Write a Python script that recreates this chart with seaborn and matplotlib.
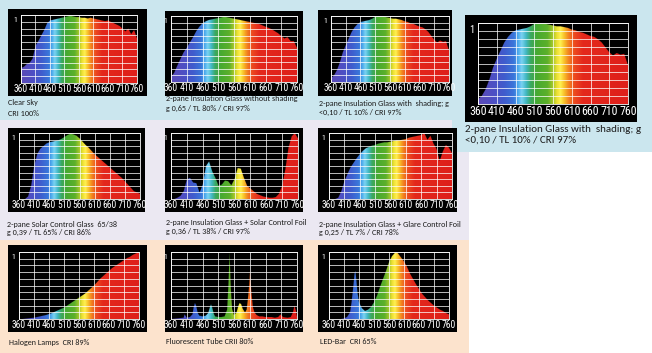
import numpy as np
import pandas as pd
import matplotlib
matplotlib.use("Agg")
import matplotlib.pyplot as plt
from matplotlib.colors import LinearSegmentedColormap
from matplotlib.patches import Rectangle
import seaborn as sns

W, H = 652, 353

# wavelength grid (nm) and tick labels
wl = list(range(360, 761, 10))
tick_nm = [360, 410, 460, 510, 560, 610, 660, 710, 760]
tick_labels = ["360", "410", "460", "510", "560", "610", "660", "710", "760"]

# relative intensity (0..1)
clear_sky = [0.22, 0.24, 0.28, 0.30, 0.36, 0.55, 0.62, 0.70, 0.78, 0.88, 0.92, 0.93, 0.94, 0.95,
             0.96, 0.97, 0.98, 0.99, 0.98, 0.97, 0.97, 0.96, 0.96, 0.95, 0.96, 0.95, 0.94, 0.93,
             0.92, 0.91, 0.92, 0.90, 0.88, 0.86, 0.84, 0.80, 0.76, 0.80, 0.72, 0.78, 0.66]
no_shading = [0.08, 0.14, 0.25, 0.35, 0.45, 0.52, 0.60, 0.68, 0.77, 0.84, 0.89, 0.92, 0.94, 0.95,
              0.96, 0.97, 0.98, 0.99, 0.98, 0.97, 0.96, 0.95, 0.94, 0.93, 0.92, 0.91, 0.90, 0.89,
              0.88, 0.86, 0.84, 0.82, 0.80, 0.77, 0.74, 0.70, 0.66, 0.68, 0.62, 0.62, 0.52]
shading = [0.06, 0.10, 0.18, 0.30, 0.45, 0.56, 0.66, 0.76, 0.83, 0.88, 0.91, 0.92, 0.93, 0.94,
           0.96, 0.99, 1.00, 0.99, 0.99, 0.98, 0.97, 0.96, 0.96, 0.95, 0.94, 0.92, 0.91, 0.89,
           0.88, 0.86, 0.84, 0.83, 0.80, 0.76, 0.70, 0.64, 0.60, 0.63, 0.61, 0.62, 0.48]
solar_glass = [0.0, 0.0, 0.0, 0.04, 0.20, 0.50, 0.68, 0.76, 0.80, 0.84, 0.86, 0.87, 0.88, 0.89,
               0.91, 0.94, 0.97, 0.99, 0.98, 0.96, 0.92, 0.87, 0.82, 0.78, 0.73, 0.68, 0.64, 0.60,
               0.56, 0.52, 0.48, 0.44, 0.40, 0.36, 0.32, 0.27, 0.22, 0.17, 0.12, 0.10, 0.08]
solar_foil = [0.0, 0.0, 0.02, 0.05, 0.12, 0.30, 0.32, 0.25, 0.24, 0.10, 0.22, 0.50, 0.57, 0.42,
              0.32, 0.20, 0.22, 0.28, 0.27, 0.21, 0.30, 0.47, 0.46, 0.32, 0.20, 0.16, 0.12, 0.08,
              0.06, 0.04, 0.03, 0.02, 0.02, 0.03, 0.08, 0.20, 0.45, 0.78, 0.95, 1.00, 0.92]
glare_foil = [0.0, 0.0, 0.0, 0.02, 0.12, 0.27, 0.38, 0.48, 0.55, 0.62, 0.68, 0.73, 0.77, 0.79,
              0.81, 0.82, 0.84, 0.85, 0.86, 0.86, 0.87, 0.88, 0.89, 0.89, 0.90, 0.91, 0.93, 0.94,
              0.95, 0.96, 0.97, 1.00, 0.90, 0.96, 0.84, 0.76, 0.58, 0.72, 0.82, 0.78, 0.70]
halogen = [0.0, 0.0, 0.005, 0.01, 0.015, 0.02, 0.03, 0.04, 0.05, 0.06, 0.075, 0.09, 0.11, 0.13,
           0.15, 0.17, 0.20, 0.23, 0.26, 0.29, 0.32, 0.35, 0.38, 0.42, 0.46, 0.50, 0.55, 0.60,
           0.64, 0.68, 0.72, 0.76, 0.79, 0.82, 0.85, 0.88, 0.91, 0.93, 0.96, 0.98, 1.00]

fluo_wl = [360, 380, 400, 403, 406, 410, 420, 428, 432, 436, 440, 445, 450, 460, 470, 478, 483,
           487, 491, 496, 500, 510, 520, 530, 538, 542, 546, 550, 554, 560, 568, 574, 578, 583,
           588, 595, 600, 604, 608, 611, 615, 620, 625, 632, 640, 650, 660, 670, 680, 690, 700,
           704, 707, 711, 716, 730, 740, 747, 752, 757, 760]
fluorescent = [0.0, 0.01, 0.02, 0.07, 0.05, 0.02, 0.03, 0.07, 0.18, 0.24, 0.20, 0.09, 0.05, 0.04,
               0.05, 0.09, 0.17, 0.22, 0.17, 0.08, 0.04, 0.03, 0.03, 0.04, 0.14, 0.50, 1.00, 0.45,
               0.15, 0.06, 0.10, 0.20, 0.24, 0.22, 0.15, 0.10, 0.14, 0.30, 0.50, 0.73, 0.42, 0.18,
               0.10, 0.06, 0.04, 0.04, 0.03, 0.03, 0.03, 0.02, 0.03, 0.05, 0.07, 0.05, 0.03, 0.02,
               0.03, 0.10, 0.20, 0.12, 0.04]

led_wl = [360, 380, 400, 410, 420, 430, 435, 440, 445, 448, 451, 455, 460, 470, 480, 490, 500,
          510, 520, 530, 540, 550, 560, 570, 580, 585, 590, 600, 610, 620, 630, 640, 650, 660,
          670, 680, 690, 700, 710, 720, 730, 740, 750, 760]
led = [0.0, 0.0, 0.0, 0.01, 0.03, 0.10, 0.25, 0.45, 0.68, 0.72, 0.60, 0.40, 0.25, 0.16, 0.12,
       0.14, 0.18, 0.25, 0.35, 0.48, 0.60, 0.72, 0.85, 0.94, 0.99, 1.00, 0.98, 0.92, 0.86, 0.78,
       0.68, 0.60, 0.52, 0.45, 0.38, 0.33, 0.28, 0.24, 0.20, 0.17, 0.14, 0.12, 0.09, 0.07]

captions = [
    ["Clear Sky", "CRI 100%"],
    ["2-pane Insulation Glass without shading", "g 0,65 / TL 80% / CRI 97%"],
    ["2-pane Insulation Glass with  shading; g", "<0,10 / TL 10% / CRI 97%"],
    ["2-pane Insulation Glass with  shading; g", "<0,10 / TL 10% / CRI 97%"],
    ["2-pane Solar Control Glass  65/38", "g 0,39 / TL 65% / CRI 86%"],
    ["2-pane Insulation Glass + Solar Control Foil", "g 0,36 / TL 38% / CRI 97%"],
    ["2-pane Insulation Glass + Glare Control Foil", "g 0,25 / TL 7% / CRI 78%"],
    ["Halogen Lamps  CRI 89%"],
    ["Fluorescent Tube CRII 80%"],
    ["LED-Bar  CRI 65%"],
]
series = [(wl, clear_sky), (wl, no_shading), (wl, shading), (wl, shading), (wl, solar_glass),
          (wl, solar_foil), (wl, glare_foil), (wl, halogen), (fluo_wl, fluorescent), (led_wl, led)]

# layout in pixels: black box, plot area, caption x, caption line centres, sizes
layout = [
    dict(box=(8, 9, 147, 96), plot=(21, 15, 137, 83), cx=8, cy=[103, 113], fs=5.85, ts=6.9),
    dict(box=(165, 11, 303, 96), plot=(171, 16, 297, 82), cx=166, cy=[99, 108], fs=5.85, ts=6.9),
    dict(box=(318, 10, 452, 96), plot=(331, 16, 449, 82), cx=319, cy=[103, 112], fs=5.85, ts=6.9),
    dict(box=(465, 15, 637, 122), plot=(478, 23, 628, 104), cx=465, cy=[129, 140], fs=7.9, ts=8.6),
    dict(box=(8, 128, 145, 212), plot=(19, 133, 140, 199), cx=7, cy=[224, 232], fs=5.85, ts=6.9),
    dict(box=(165, 128, 303, 212), plot=(171, 133, 298, 199), cx=166, cy=[222, 231], fs=5.85, ts=6.9),
    dict(box=(318, 128, 457, 212), plot=(329, 133, 452, 199), cx=319, cy=[224, 232], fs=5.85, ts=6.9),
    dict(box=(8, 245, 147, 332), plot=(19, 252, 139, 319), cx=9, cy=[342], fs=5.85, ts=6.9),
    dict(box=(165, 245, 303, 332), plot=(171, 252, 297, 319), cx=166, cy=[341], fs=5.85, ts=6.9),
    dict(box=(318, 245, 457, 332), plot=(329, 252, 449, 319), cx=320, cy=[341], fs=5.85, ts=6.9),
]

bands = [((0, 0, 469, 120), "#cbe6ee"), ((0, 120, 469, 240), "#ebe8f2"),
         ((0, 240, 469, 353), "#fce3cd"), ((452, 0, 652, 152), "#cbe6ee")]

spec_stops = [(360, "#5b4ab6"), (400, "#4e4fc4"), (430, "#3f5ccd"), (455, "#3a76da"),
              (466, "#4aa8ec"), (476, "#7ad2f2"), (488, "#42b8c4"), (500, "#3aa862"),
              (518, "#47aa30"), (545, "#5cb02a"), (560, "#a6c82a"), (571, "#eee032"),
              (580, "#fff152"), (590, "#f8c22a"), (602, "#f2821f"), (618, "#ec4a20"),
              (640, "#e4281c"), (760, "#de1f1a")]
spec_cmap = LinearSegmentedColormap.from_list(
    "spectrum", [((w - 360) / 400, c) for w, c in spec_stops])

sns.set_style("white")
plt.rcParams["font.family"] = ["Carlito", "DejaVu Sans"]
narrow = ["Roboto Condensed", "DejaVu Sans"]


def frac(x0, y0, x1, y1):
    return [x0 / W, 1 - y1 / H, (x1 - x0) / W, (y1 - y0) / H]


fig = plt.figure(figsize=(W / 100, H / 100), dpi=100)
fig.patch.set_facecolor("white")

for (x0, y0, x1, y1), c in bands:
    fig.add_artist(Rectangle((x0 / W, 1 - y1 / H), (x1 - x0) / W, (y1 - y0) / H,
                             transform=fig.transFigure, facecolor=c, edgecolor="none", zorder=0))

ramp = np.linspace(360, 760, 400)[None, :]

for (x, y), lay, cap in zip(series, layout, captions):
    bax = fig.add_axes(frac(*lay["box"]))
    bax.set_facecolor("black")
    bax.set_xticks([])
    bax.set_yticks([])
    for s in bax.spines.values():
        s.set_visible(False)

    ax = fig.add_axes(frac(*lay["plot"]))
    ax.patch.set_alpha(0)
    poly = ax.fill_between(x, y, 0, color="none", lw=0)
    img = ax.imshow(ramp, extent=(360, 760, 0, 1), aspect="auto", cmap=spec_cmap,
                    vmin=360, vmax=760, origin="lower", zorder=1)
    img.set_clip_path(poly.get_paths()[0], transform=ax.transData)
    df = pd.DataFrame({"nm": x, "val": y})
    sns.lineplot(data=df, x="nm", y="val", ax=ax, color="black", lw=0.3, alpha=0.25, zorder=2)

    ax.set_xlim(360, 760)
    ax.set_ylim(0, 1)
    ax.set_xticks(tick_nm)
    ax.set_xticklabels(tick_labels, color="white", fontsize=lay["ts"], family=narrow)
    ax.set_yticks(np.arange(0, 1.01, 0.1))
    ax.tick_params(axis="x", length=0, pad=1.0)
    ax.tick_params(axis="y", left=False, labelleft=False)
    ax.set_axisbelow(False)
    ax.grid(True, color="white", lw=0.6, alpha=0.85)
    for s in ax.spines.values():
        s.set_color("white")
        s.set_linewidth(0.6)
    ax.set_xlabel("")
    ax.set_ylabel("")
    ax.annotate("1", xy=(0, 1), xycoords="axes fraction", xytext=(-2.5, -1.5),
                textcoords="offset points", ha="right", va="top", color="white",
                fontsize=lay["ts"] - 1.2, family=narrow)

    for line, cy in zip(cap, lay["cy"]):
        fig.text(lay["cx"] / W, 1 - cy / H, line, ha="left", va="center",
                 fontsize=lay["fs"], color="#1c1c1c")

fig.savefig("out.png", dpi=100)
